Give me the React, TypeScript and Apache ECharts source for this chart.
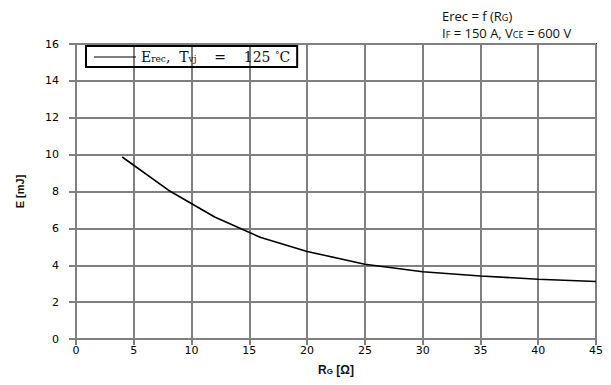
import React, { useEffect, useRef } from "react";
import * as echarts from "echarts";

const rgValues: number[] = [4, 8, 12, 16, 20, 25, 30, 35, 40, 45];
const erecValues: number[] = [9.87, 8.07, 6.62, 5.5, 4.75, 4.05, 3.65, 3.42, 3.24, 3.12];
const seriesName = "Erec, Tvj = 125°C";

export default function App() {
  const ref = useRef<HTMLDivElement>(null);
  useEffect(() => {
    if (!ref.current) return;
    const chart = echarts.init(ref.current, undefined, { renderer: "svg" });
    const labelFont = { fontFamily: "DejaVu Sans, sans-serif", fontSize: 11, color: "#000" };
    const titleFont = "Open Sans, Noto Sans, sans-serif";
    const serif = "'DejaVu Serif', 'Liberation Serif', serif";
    chart.setOption({
      animation: false,
      backgroundColor: "#fff",
      grid: { left: 76, right: 15, top: 44, bottom: 46, show: true, borderColor: "#000", borderWidth: 2 },
      title: {
        left: 437,
        top: 2,
        text: "Erec = f (R{s|G})\nI{s|F} = 150 A, V{s|CE} = 600 V",
        textStyle: {
          fontFamily: titleFont,
          fontSize: 13,
          fontWeight: "normal",
          color: "#111",
          lineHeight: 17,
          rich: { s: { fontSize: 9, fontFamily: titleFont, color: "#111", padding: [3, 0, 0, 0] } },
        },
      },
      legend: {
        left: 86,
        top: 46,
        padding: [4, 7, 3, 8],
        borderColor: "#000",
        borderWidth: 2,
        itemWidth: 42,
        itemHeight: 10,
        itemGap: 5,
        icon: "path://M0,4.5 L42,4.5 L42,5.5 L0,5.5 Z",
        data: [{ name: seriesName, itemStyle: { color: "#000" } }],
        formatter: () => "{m|E}{s|rec}{m|,  T}{s|vj}{m|    =    125 }{d|°}{m|C}",
        textStyle: {
          fontFamily: serif,
          fontSize: 14,
          color: "#111",
          rich: {
            m: { fontFamily: serif, fontSize: 14, color: "#111" },
            s: { fontFamily: serif, fontSize: 9, color: "#111", padding: [4, 0, 0, 0] },
            d: { fontFamily: serif, fontSize: 9, color: "#111", padding: [0, 0, 4, 0] },
          },
        },
      },
      xAxis: {
        type: "value",
        min: 0,
        max: 45,
        interval: 5,
        name: "R{s|G} [Ω]",
        nameLocation: "middle",
        nameGap: 25,
        nameTextStyle: {
          fontFamily: "Liberation Sans, Arial, sans-serif",
          fontSize: 12,
          fontWeight: "bold",
          color: "#111",
          rich: { s: { fontSize: 8, fontWeight: "bold", fontFamily: "Liberation Sans, Arial, sans-serif", color: "#111", padding: [3, 0, 0, 0] } },
        },
        axisLine: { show: false },
        axisTick: { show: true, inside: false, length: 6, lineStyle: { color: "#808080", width: 2 } },
        axisLabel: { ...labelFont, margin: 6 },
        splitLine: { show: true, lineStyle: { color: "#808080", width: 2 } },
      },
      yAxis: {
        type: "value",
        min: 0,
        max: 16,
        interval: 2,
        name: "E [mJ]",
        nameLocation: "middle",
        nameGap: 51,
        nameRotate: 90,
        nameTextStyle: { fontFamily: "Liberation Sans, Arial, sans-serif", fontSize: 11, fontWeight: "bold", color: "#111" },
        axisLine: { show: false },
        axisTick: { show: true, inside: false, length: 7, lineStyle: { color: "#808080", width: 2 } },
        axisLabel: { ...labelFont, margin: 17 },
        splitLine: { show: true, lineStyle: { color: "#808080", width: 2 } },
      },
      series: [
        {
          name: seriesName,
          type: "line",
          data: rgValues.map((x, i) => [x, erecValues[i]]),
          showSymbol: false,
          smooth: false,
          lineStyle: { color: "#000", width: 1.6 },
          itemStyle: { color: "#000" },
        },
      ],
    });
    return () => chart.dispose();
  }, []);
  return <div ref={ref} style={{ width: 611, height: 385, position: "absolute", left: 0, top: 0 }} />;
}
